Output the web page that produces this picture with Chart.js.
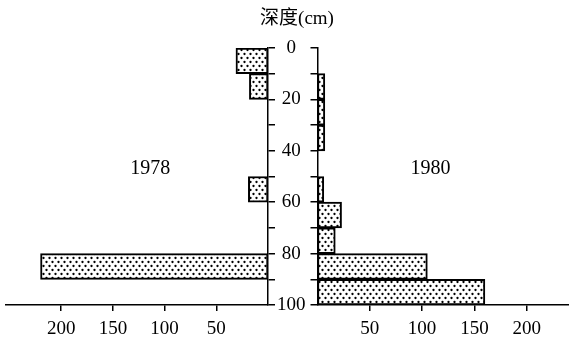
<!DOCTYPE html>
<html>
<head>
<meta charset="utf-8">
<script src="https://cdn.jsdelivr.net/npm/chart.js@4"></script>
<style>
  html, body { margin: 0; padding: 0; background: #fff; }
  #wrap { position: relative; width: 569px; height: 338px; }
  #wrap canvas { position: absolute; left: 0; top: 0; }
</style>
</head>
<body>
<div id="wrap">
  <canvas id="plot1978" width="569" height="338"></canvas>
  <canvas id="plot1980" width="569" height="338"></canvas>
</div>
<script>
// depth layers (cm), top of each 10 cm slice
const depthTop = [0, 10, 20, 30, 40, 50, 60, 70, 80, 90];
const values1978 = [31, 18, null, null, null, 19, null, null, 220, null];
const values1980 = [null, 7, 7, 7, null, 6, 23, 17, 105, 160];
const depthTicks = [0, 10, 20, 30, 40, 50, 60, 70, 80, 90, 100];
const depthLabels = ['0', '', '20', '', '40', '', '60', '', '80', '', '100'];
const countTicks = [50, 100, 150, 200];
const axisTitle = '深度(cm)';

Chart.defaults.font.family = "'Liberation Serif', 'Noto Sans CJK SC', serif";
Chart.defaults.font.size = 19;
Chart.defaults.color = '#000';

function dotPattern() {
    const c = document.createElement('canvas');
    c.width = 6; c.height = 8;
    const g = c.getContext('2d');
    g.fillStyle = '#fff';
    g.fillRect(0, 0, 6, 8);
    g.fillStyle = '#000';
    g.beginPath(); g.arc(1.5, 2, 1.15, 0, Math.PI * 2); g.fill();
    g.beginPath(); g.arc(4.5, 6, 1.15, 0, Math.PI * 2); g.fill();
    return g.createPattern(c, 'repeat');
}

function toPoints(vals) {
    const pts = [];
    vals.forEach((v, i) => {
        if (v !== null) pts.push({ x: v, y: depthTop[i] + 5 });
    });
    return pts;
}

// draws free text at data coordinates
const textLabels = {
    id: 'textLabels',
    afterDraw(chart, args, opts) {
        const ctx = chart.ctx;
        ctx.save();
        ctx.fillStyle = '#000';
        ctx.textAlign = 'center';
        ctx.textBaseline = 'middle';
        (opts.items || []).forEach(it => {
            ctx.font = it.font;
            const x = it.px !== undefined ? it.px : chart.scales.x.getPixelForValue(it.x);
            const y = it.py !== undefined ? it.py : chart.scales.y.getPixelForValue(it.y);
            ctx.fillText(it.text, x, y);
        });
        ctx.restore();
    }
};

function makePlot(id, vals, left) {
    return new Chart(document.getElementById(id), {
        type: 'bar',
        data: {
            datasets: [{
                data: toPoints(vals),
                backgroundColor: dotPattern(),
                borderColor: '#000',
                borderWidth: 2,
                borderSkipped: false,
                barPercentage: 1,
                categoryPercentage: 1
            }]
        },
        options: {
            indexAxis: 'y',
            animation: false,
            responsive: false,
            events: [],
            layout: {
                padding: left
                    ? { left: 6, right: 569 - 268 - 49, top: 48, bottom: 0 }
                    : { left: 317.5 - 7, right: 0, top: 48, bottom: 0 }
            },
            plugins: {
                legend: { display: false },
                tooltip: { enabled: false },
                textLabels: {
                    items: left
                        ? [{ text: '1978', x: 114, y: 47, font: "20px 'Liberation Serif'" },
                           { text: axisTitle, px: 297, py: 19, font: "19px 'Liberation Serif', 'Noto Sans CJK SC'" }]
                        : [{ text: '1980', x: 108, y: 47, font: "20px 'Liberation Serif'" }]
                }
            },
            scales: {
                x: {
                    type: 'linear',
                    reverse: left,
                    min: 0,
                    max: left ? 253.4 : 240.4,
                    afterBuildTicks: (s) => { s.ticks = countTicks.map(v => ({ value: v })); },
                    afterFit: (s) => { s.height = 33; },
                    grid: { drawOnChartArea: false, drawTicks: true, tickLength: 6, color: '#000', lineWidth: 1.5 },
                    border: { color: '#000', width: 1.5 },
                    ticks: { padding: 9, font: { lineHeight: 1 } }
                },
                y: {
                    type: 'linear',
                    reverse: true,
                    offset: false,
                    min: 0,
                    max: 100,
                    position: left ? 'right' : 'left',
                    afterBuildTicks: (s) => { s.ticks = depthTicks.map(v => ({ value: v })); },
                    afterFit: (s) => { s.width = left ? 49 : 7; },
                    grid: { offset: false, drawOnChartArea: false, drawTicks: true, tickLength: 7, color: '#000', lineWidth: 1.5 },
                    border: { color: '#000', width: 1.5 },
                    ticks: {
                        padding: 2,
                        crossAlign: 'center',
                        font: { lineHeight: 1 },
                        callback: (v, i) => left ? depthLabels[i] : ''
                    }
                }
            }
        },
        plugins: [textLabels]
    });
}

makePlot('plot1978', values1978, true);
makePlot('plot1980', values1980, false);
</script>
</body>
</html>
